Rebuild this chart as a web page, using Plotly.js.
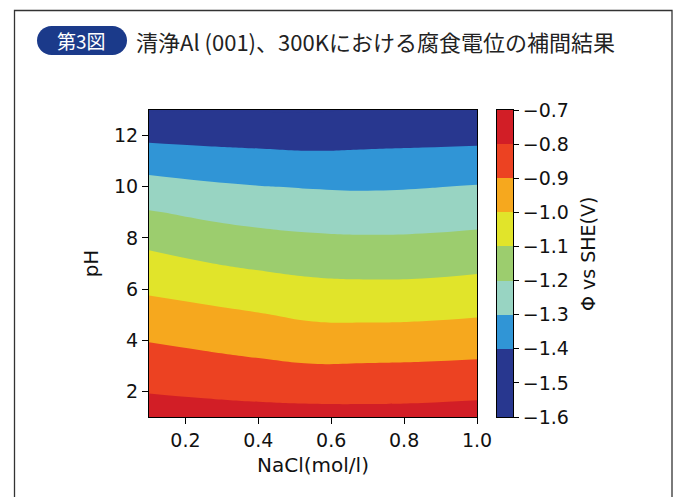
<!DOCTYPE html>
<html><head><meta charset="utf-8">
<script src="https://cdn.plot.ly/plotly-3.0.1.min.js"></script>
<style>html,body{margin:0;padding:0;background:#fff;}#chart{width:682px;height:497px;}</style>
</head><body><div id="chart"></div>
<script>
// ---- data ----
const nacl = [0.1, 0.25, 0.4, 0.55, 0.7, 0.85, 1.0];
const ph = [1, 2, 3, 4, 5, 6, 7, 8, 9, 10, 11, 12, 13];
// potential (V vs SHE): one row per pH value, one column per NaCl value
const potential = [
  [-0.754, -0.761, -0.765, -0.767, -0.768, -0.766, -0.759],
  [-0.804, -0.814, -0.824, -0.831, -0.831, -0.828, -0.822],
  [-0.854, -0.868, -0.883, -0.895, -0.893, -0.890, -0.884],
  [-0.904, -0.922, -0.939, -0.956, -0.957, -0.953, -0.946],
  [-0.959, -0.976, -0.995, -1.016, -1.019, -1.016, -1.007],
  [-1.014, -1.035, -1.056, -1.073, -1.078, -1.076, -1.066],
  [-1.069, -1.096, -1.116, -1.131, -1.136, -1.134, -1.124],
  [-1.129, -1.157, -1.176, -1.188, -1.193, -1.190, -1.181],
  [-1.194, -1.218, -1.236, -1.247, -1.251, -1.247, -1.238],
  [-1.265, -1.284, -1.297, -1.305, -1.309, -1.304, -1.295],
  [-1.342, -1.356, -1.366, -1.373, -1.371, -1.367, -1.360],
  [-1.423, -1.430, -1.435, -1.440, -1.433, -1.429, -1.426],
  [-1.504, -1.504, -1.505, -1.507, -1.494, -1.492, -1.492]
];
const levels = [-1.6, -1.5, -1.4, -1.3, -1.2, -1.1, -1.0, -0.9, -0.8, -0.7];
const xTicks = [0.2, 0.4, 0.6, 0.8, 1.0];
const yTicks = [2, 4, 6, 8, 10, 12];
const badgeText = '第3図';
const titleText = '清浄Al (001)、300Kにおける腐食電位の補間結果';
const xTitle = 'NaCl(mol/l)';
const yTitle = 'pH';
const cbTitle = 'Φ vs SHE(V)';
// colours: below lowest level, then each band upward, then above highest level
const bandColors = ['#28378f', '#28378f', '#28378f', '#3095d6', '#98d4c2', '#9ccd6e',
                    '#e1e42a', '#f6a81e', '#ec4222', '#d21e26', '#d21e26'];

// ---- layout geometry (pixels) ----
const W = 682, H = 497, M = {l: 149, r: 150, t: 110, b: 80};
const PW = W - M.l - M.r, PH = H - M.t - M.b;
const px2x = p => (p - M.l) / PW;
const py2y = p => (H - M.b - p) / PH;
const pt = (x, y) => px2x(x).toFixed(5) + ',' + py2y(y).toFixed(5);

const lvStart = levels[0], lvEnd = levels[levels.length - 1];
const lvSize = (lvEnd - lvStart) / (levels.length - 1);
const colorscale = bandColors.map((c, i) => [i / (bandColors.length - 1), c]);
const cmin = lvStart - lvSize / 2, cmax = lvEnd + lvSize / 2;

// colour-bar cells: one per band between consecutive levels
const cbMid = levels.slice(0, -1).map((v, i) => (v + levels[i + 1]) / 2);

// badge path (pill)
const bx0 = 37, bx1 = 127, by0 = 26, by1 = 55, br = 14.5, bk = 0.5523 * br, bcy = (by0 + by1) / 2;
const badgePath = 'M' + pt(bx0 + br, by0) + ' L' + pt(bx1 - br, by0) +
  ' C' + pt(bx1 - br + bk, by0) + ' ' + pt(bx1, bcy - bk) + ' ' + pt(bx1, bcy) +
  ' C' + pt(bx1, bcy + bk) + ' ' + pt(bx1 - br + bk, by1) + ' ' + pt(bx1 - br, by1) +
  ' L' + pt(bx0 + br, by1) +
  ' C' + pt(bx0 + br - bk, by1) + ' ' + pt(bx0, bcy + bk) + ' ' + pt(bx0, bcy) +
  ' C' + pt(bx0, bcy - bk) + ' ' + pt(bx0 + br - bk, by0) + ' ' + pt(bx0 + br, by0) + ' Z';
const framePath = 'M' + pt(14.5, 505) + ' L' + pt(14.5, 10.5) + ' L' + pt(672, 10.5) + ' L' + pt(672, 505);

const tickFont = {family: 'DejaVu Sans', size: 19, color: '#111'};
const titleFont = {family: 'DejaVu Sans', size: 20, color: '#111'};

const contour = {
  type: 'contour',
  x: nacl, y: ph, z: potential,
  autocontour: false,
  contours: {start: lvStart, end: lvEnd, size: lvSize, coloring: 'fill', showlines: true},
  line: {width: 0, color: 'rgba(0,0,0,0)', smoothing: 1.3},
  colorscale: colorscale,
  showscale: false,
  hoverinfo: 'skip'
};

const colorbarCells = {
  type: 'heatmap',
  x: [0], y: cbMid, z: cbMid.map(v => [v]),
  zmin: cmin, zmax: cmax,
  colorscale: colorscale, showscale: false,
  xaxis: 'x2', yaxis: 'y2', hoverinfo: 'skip'
};

const axisCommon = {
  ticks: 'outside', ticklen: 6, tickcolor: '#000', tickwidth: 1,
  showline: true, mirror: true, linecolor: '#000', linewidth: 1,
  showgrid: false, zeroline: false, tickfont: tickFont
};

const layout = {
  width: W, height: H,
  margin: M,
  paper_bgcolor: '#fff', plot_bgcolor: '#fff',
  showlegend: false,
  xaxis: Object.assign({}, axisCommon, {
    domain: [0, px2x(477)],
    range: [0.1, 1.0], tickvals: xTicks, tickformat: '.1f',
    title: {text: xTitle, font: titleFont, standoff: 8}
  }),
  yaxis: Object.assign({}, axisCommon, {
    range: [1, 13], tickvals: yTicks,
    title: {text: yTitle, font: titleFont, standoff: 10}
  }),
  xaxis2: {
    domain: [px2x(497), px2x(513)], anchor: 'y2', range: [-0.5, 0.5],
    showticklabels: false, ticks: '', showgrid: false, zeroline: false,
    showline: true, mirror: true, linecolor: '#000', linewidth: 1
  },
  yaxis2: Object.assign({}, axisCommon, {
    anchor: 'x2', side: 'right', range: [lvStart, lvEnd],
    tickvals: levels, tickformat: '.1f', ticklen: 5
  }),
  shapes: [
    {type: 'path', xref: 'paper', yref: 'paper', path: framePath, line: {color: '#333', width: 1.3}},
    {type: 'path', xref: 'paper', yref: 'paper', path: badgePath, fillcolor: '#1b3a8a', line: {width: 0}}
  ],
  annotations: [
    {xref: 'paper', yref: 'paper', x: px2x(81), y: py2y(40.5), xanchor: 'center', yanchor: 'middle',
     text: badgeText, showarrow: false,
     font: {family: 'Noto Sans CJK JP', size: 19, color: '#fff'}},
    {xref: 'paper', yref: 'paper', x: px2x(134), y: py2y(41), xanchor: 'left', yanchor: 'middle',
     text: titleText, showarrow: false,
     font: {family: 'Noto Sans CJK JP', size: 22, color: '#222'}},
    {xref: 'paper', yref: 'paper', x: px2x(588), y: py2y(254), xanchor: 'center', yanchor: 'middle',
     text: cbTitle, textangle: -90, showarrow: false, font: {family: 'DejaVu Sans', size: 19, color: '#111'}}
  ]
};

Plotly.newPlot('chart', [contour, colorbarCells], layout, {staticPlot: true, displayModeBar: false});
</script>
</body></html>
